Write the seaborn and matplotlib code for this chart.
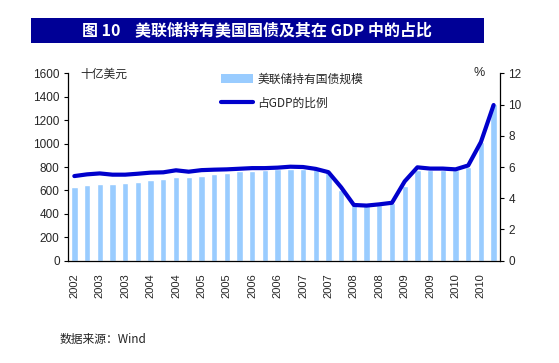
import pandas as pd
import numpy as np
import matplotlib.pyplot as plt
import seaborn as sns
from matplotlib.patches import Rectangle, Patch
from matplotlib.lines import Line2D

# --- data (quarterly, 2002Q4 - 2011Q1) ---
quarters = [f'{y}Q{q}' for y in range(2002, 2012) for q in range(1, 5)][3:37]
tick_years = ['2002', '2003', '2003', '2004', '2004', '2005', '2005', '2006', '2006',
              '2007', '2007', '2008', '2008', '2009', '2009', '2010', '2010']
holdings = [629, 649, 658, 658, 666, 675, 692, 700, 717, 717,
            725, 742, 752, 762, 770, 776, 780, 783, 786, 780,
            760, 600, 478, 479, 476, 490, 640, 772, 776, 776,
            777, 800, 1017, 1335]
gdp_ratio = [5.42, 5.53, 5.59, 5.51, 5.51, 5.57, 5.64, 5.66, 5.79, 5.70,
             5.80, 5.83, 5.85, 5.89, 5.93, 5.93, 5.96, 6.02, 6.00, 5.88,
             5.67, 4.70, 3.57, 3.53, 3.61, 3.71, 5.08, 5.98, 5.90, 5.90,
             5.85, 6.10, 7.60, 9.97]
bar_label = '美联储持有国债规模'
line_label = '占GDP的比例'

df = pd.DataFrame({'idx': range(len(quarters)), 'quarter': quarters,
                   'holdings': holdings, 'ratio': gdp_ratio})

sns.set_theme(style='white')
plt.rcParams['font.family'] = ['Liberation Sans', 'Noto Sans CJK SC', 'DejaVu Sans']
cjk = ['Noto Sans CJK SC', 'DejaVu Sans']

fig = plt.figure(figsize=(5.59, 3.63), dpi=100)
ax = fig.add_axes([0.1216, 0.2818, 0.7728, 0.5162])

bar_color = '#99CCFF'
line_color = '#0000CC'

sns.barplot(data=df, x='idx', y='holdings', color=bar_color, width=0.5,
            saturation=1, ax=ax)
ax.set_xlim(-0.5, len(quarters) - 0.5)
ax.set_ylim(0, 1600)
ax.set_yticks(np.arange(0, 1601, 200))
ax.set_xticks(np.arange(0, len(quarters), 2))
ax.set_xticklabels(tick_years, rotation=90, fontsize=8)
ax.set_xlabel('')
ax.set_ylabel('')
ax.tick_params(axis='y', labelsize=8.5, length=3, width=0.8, color='black', left=True, pad=3)
ax.tick_params(axis='x', length=0, pad=9)
for s in ['top', 'right']:
    ax.spines[s].set_visible(False)
for s in ['left', 'bottom']:
    ax.spines[s].set_color('black')
    ax.spines[s].set_linewidth(0.9)

ax2 = ax.twinx()
sns.lineplot(data=df, x='idx', y='ratio', color=line_color, linewidth=3,
             ax=ax2, solid_capstyle='round', solid_joinstyle='round')
ax2.set_ylim(0, 12)
ax2.set_yticks(np.arange(0, 13, 2))
ax2.set_ylabel('')
ax2.set_xlabel('')
ax2.set_xlim(-0.5, len(quarters) - 0.5)
ax2.tick_params(axis='y', labelsize=8.5, length=3, width=0.8, color='black', right=True, pad=3)
for s in ['top', 'left', 'bottom']:
    ax2.spines[s].set_visible(False)
ax2.spines['right'].set_color('black')
ax2.spines['right'].set_linewidth(0.9)

# unit labels
fig.text(0.143, 0.795, '十亿美元', family=cjk, fontsize=8.5, va='center', ha='left')
fig.text(0.858, 0.800, '%', fontsize=9, va='center', ha='center')

# legend
handles = [Patch(facecolor=bar_color, edgecolor='none'),
           Line2D([0], [0], color=line_color, linewidth=3, solid_capstyle='round')]
leg = fig.legend(handles, [bar_label, line_label], loc='upper left',
                 bbox_to_anchor=(0.385, 0.815), frameon=False, fontsize=8.5,
                 handlelength=2.7, handleheight=0.8, handletextpad=0.35,
                 labelspacing=0.9, borderpad=0)
for t in leg.get_texts():
    t.set_family(cjk)

# title bar
fig.patches.append(Rectangle((31 / 559, 1 - 43 / 363), (484 - 31) / 559, 25 / 363,
                             transform=fig.transFigure, facecolor='#000096',
                             edgecolor='none'))
fig.text(257 / 559, 1 - 30.5 / 363, '图 10    美联储持有美国国债及其在 GDP 中的占比',
         family=cjk, color='white', fontsize=11.5, fontweight='bold',
         ha='center', va='center')

# source
fig.text(60 / 559, 1 - 339 / 363, '数据来源：Wind', family=cjk, fontsize=8.5,
         ha='left', va='center', color='#222222')

plt.savefig('out.png', dpi=100)
